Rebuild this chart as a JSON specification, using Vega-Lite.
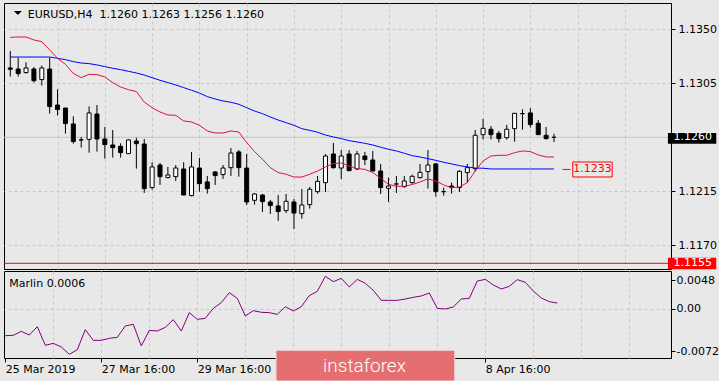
{
  "$schema": "https://vega.github.io/schema/vega-lite/v6.json",
  "background": "#e8e8e8",
  "padding": {"left": 2, "top": 2, "right": 0, "bottom": 0},
  "autosize": {"type": "pad"},
  "spacing": 2,
  "bounds": "flush",
  "config": {
    "font": "DejaVu Sans",
    "view": {"fill": "#e8e8e8", "stroke": "#000000", "strokeWidth": 1},
    "axis": {"labelFont": "DejaVu Sans", "labelFontSize": 11, "labelColor": "#000000", "tickColor": "#000000", "domain": false, "gridColor": "#c8c8c8", "gridDash": [3, 3], "gridWidth": 1}
  },
  "datasets": {
    "d": [
      {"i": 0, "o": 1.13178, "h": 1.13319, "l": 1.13106, "c": 1.13167, "b": 1.13269, "r": 1.13433, "m": -0.00456},
      {"i": 1, "o": 1.13169, "h": 1.13264, "l": 1.13106, "c": 1.13131, "b": 1.13269, "r": 1.13436, "m": -0.0045},
      {"i": 2, "o": 1.13139, "h": 1.13225, "l": 1.13131, "c": 1.13178, "b": 1.13269, "r": 1.13436, "m": -0.00383},
      {"i": 3, "o": 1.13169, "h": 1.13186, "l": 1.13056, "c": 1.13072, "b": 1.13269, "r": 1.13411, "m": -0.00445},
      {"i": 4, "o": 1.13081, "h": 1.13197, "l": 1.13031, "c": 1.13178, "b": 1.13269, "r": 1.13397, "m": -0.00304},
      {"i": 5, "o": 1.13169, "h": 1.13264, "l": 1.12797, "c": 1.12856, "b": 1.13269, "r": 1.13328, "m": -0.00619},
      {"i": 6, "o": 1.12869, "h": 1.13, "l": 1.12781, "c": 1.12831, "b": 1.13258, "r": 1.13258, "m": -0.00585},
      {"i": 7, "o": 1.12844, "h": 1.12844, "l": 1.12631, "c": 1.12714, "b": 1.13247, "r": 1.13208, "m": -0.00647},
      {"i": 8, "o": 1.12711, "h": 1.12775, "l": 1.12547, "c": 1.12564, "b": 1.13231, "r": 1.13133, "m": -0.00771},
      {"i": 9, "o": 1.12578, "h": 1.12603, "l": 1.12514, "c": 1.12578, "b": 1.13219, "r": 1.13097, "m": -0.00692},
      {"i": 10, "o": 1.12583, "h": 1.12858, "l": 1.12472, "c": 1.12803, "b": 1.13214, "r": 1.13125, "m": -0.00354},
      {"i": 11, "o": 1.12794, "h": 1.12869, "l": 1.12481, "c": 1.12586, "b": 1.13203, "r": 1.13122, "m": -0.00535},
      {"i": 12, "o": 1.12586, "h": 1.12686, "l": 1.12422, "c": 1.12539, "b": 1.13189, "r": 1.13103, "m": -0.00535},
      {"i": 13, "o": 1.12536, "h": 1.12661, "l": 1.12431, "c": 1.12514, "b": 1.13175, "r": 1.13056, "m": -0.00501},
      {"i": 14, "o": 1.12525, "h": 1.1255, "l": 1.12431, "c": 1.12472, "b": 1.13164, "r": 1.13019, "m": -0.00484},
      {"i": 15, "o": 1.12464, "h": 1.12583, "l": 1.12464, "c": 1.12578, "b": 1.1315, "r": 1.12997, "m": -0.00292},
      {"i": 16, "o": 1.12569, "h": 1.12597, "l": 1.12339, "c": 1.12547, "b": 1.13136, "r": 1.12981, "m": -0.00264},
      {"i": 17, "o": 1.12544, "h": 1.12586, "l": 1.12136, "c": 1.12172, "b": 1.13119, "r": 1.12894, "m": -0.0063},
      {"i": 18, "o": 1.12181, "h": 1.12392, "l": 1.12164, "c": 1.12353, "b": 1.13097, "r": 1.12847, "m": -0.00366},
      {"i": 19, "o": 1.12369, "h": 1.12386, "l": 1.12203, "c": 1.12272, "b": 1.13075, "r": 1.12811, "m": -0.00377},
      {"i": 20, "o": 1.12264, "h": 1.12353, "l": 1.12258, "c": 1.12286, "b": 1.13056, "r": 1.12786, "m": -0.00315},
      {"i": 21, "o": 1.12272, "h": 1.12369, "l": 1.12236, "c": 1.12344, "b": 1.13036, "r": 1.12783, "m": -0.00185},
      {"i": 22, "o": 1.12336, "h": 1.12392, "l": 1.12119, "c": 1.12119, "b": 1.13014, "r": 1.12736, "m": -0.00377},
      {"i": 23, "o": 1.12114, "h": 1.12478, "l": 1.12108, "c": 1.12353, "b": 1.12992, "r": 1.12728, "m": -0.00067},
      {"i": 24, "o": 1.12344, "h": 1.12428, "l": 1.12147, "c": 1.12214, "b": 1.12969, "r": 1.127, "m": -0.0018},
      {"i": 25, "o": 1.12228, "h": 1.12278, "l": 1.12131, "c": 1.12172, "b": 1.12939, "r": 1.12653, "m": -0.00163},
      {"i": 26, "o": 1.12311, "h": 1.12319, "l": 1.12203, "c": 1.12281, "b": 1.12919, "r": 1.12636, "m": 0.00006},
      {"i": 27, "o": 1.12289, "h": 1.12369, "l": 1.12253, "c": 1.12344, "b": 1.12903, "r": 1.12636, "m": 0.00102},
      {"i": 28, "o": 1.12347, "h": 1.12511, "l": 1.12278, "c": 1.12469, "b": 1.12892, "r": 1.12653, "m": 0.00271},
      {"i": 29, "o": 1.12478, "h": 1.12494, "l": 1.12272, "c": 1.12347, "b": 1.12875, "r": 1.12644, "m": 0.00175},
      {"i": 30, "o": 1.12344, "h": 1.12461, "l": 1.12036, "c": 1.12061, "b": 1.12847, "r": 1.12556, "m": -0.00123},
      {"i": 31, "o": 1.12075, "h": 1.12136, "l": 1.12039, "c": 1.12128, "b": 1.12819, "r": 1.12481, "m": -0.00033},
      {"i": 32, "o": 1.12119, "h": 1.12128, "l": 1.11978, "c": 1.12064, "b": 1.12797, "r": 1.12417, "m": -0.00061},
      {"i": 33, "o": 1.12061, "h": 1.12078, "l": 1.11961, "c": 1.12031, "b": 1.12769, "r": 1.12347, "m": -0.00067},
      {"i": 34, "o": 1.12028, "h": 1.12119, "l": 1.11903, "c": 1.11981, "b": 1.12744, "r": 1.12306, "m": -0.00095},
      {"i": 35, "o": 1.11989, "h": 1.12128, "l": 1.11969, "c": 1.12067, "b": 1.12722, "r": 1.12292, "m": 0.00034},
      {"i": 36, "o": 1.12061, "h": 1.12086, "l": 1.11836, "c": 1.11969, "b": 1.127, "r": 1.12269, "m": -0.00039},
      {"i": 37, "o": 1.11964, "h": 1.12169, "l": 1.11922, "c": 1.12036, "b": 1.12672, "r": 1.12269, "m": 0.00034},
      {"i": 38, "o": 1.12039, "h": 1.12186, "l": 1.12006, "c": 1.12167, "b": 1.12658, "r": 1.12292, "m": 0.0022},
      {"i": 39, "o": 1.12147, "h": 1.12278, "l": 1.12131, "c": 1.12233, "b": 1.12642, "r": 1.12319, "m": 0.00294},
      {"i": 40, "o": 1.12222, "h": 1.12461, "l": 1.12144, "c": 1.12444, "b": 1.12619, "r": 1.12353, "m": 0.00547},
      {"i": 41, "o": 1.12461, "h": 1.12553, "l": 1.12339, "c": 1.12347, "b": 1.12603, "r": 1.12381, "m": 0.00457},
      {"i": 42, "o": 1.12344, "h": 1.12494, "l": 1.12253, "c": 1.12444, "b": 1.12589, "r": 1.12386, "m": 0.00513},
      {"i": 43, "o": 1.12461, "h": 1.12494, "l": 1.12319, "c": 1.12322, "b": 1.12572, "r": 1.12361, "m": 0.00367},
      {"i": 44, "o": 1.12336, "h": 1.12486, "l": 1.12328, "c": 1.12461, "b": 1.12561, "r": 1.12339, "m": 0.00496},
      {"i": 45, "o": 1.12444, "h": 1.12478, "l": 1.12369, "c": 1.12414, "b": 1.1255, "r": 1.12333, "m": 0.00429},
      {"i": 46, "o": 1.12411, "h": 1.12486, "l": 1.12319, "c": 1.12319, "b": 1.12536, "r": 1.12306, "m": 0.0031},
      {"i": 47, "o": 1.12319, "h": 1.12378, "l": 1.12128, "c": 1.12181, "b": 1.12517, "r": 1.12258, "m": 0.00141},
      {"i": 48, "o": 1.12175, "h": 1.12264, "l": 1.12061, "c": 1.12194, "b": 1.125, "r": 1.12208, "m": 0.00141},
      {"i": 49, "o": 1.12211, "h": 1.12278, "l": 1.12136, "c": 1.12211, "b": 1.12486, "r": 1.12192, "m": 0.00141},
      {"i": 50, "o": 1.12189, "h": 1.12278, "l": 1.12178, "c": 1.12236, "b": 1.12467, "r": 1.12192, "m": 0.00164},
      {"i": 51, "o": 1.12222, "h": 1.12289, "l": 1.12214, "c": 1.12275, "b": 1.12447, "r": 1.12206, "m": 0.00192},
      {"i": 52, "o": 1.12264, "h": 1.12378, "l": 1.12256, "c": 1.12308, "b": 1.12436, "r": 1.12228, "m": 0.00215},
      {"i": 53, "o": 1.12314, "h": 1.12494, "l": 1.12172, "c": 1.12369, "b": 1.12422, "r": 1.12253, "m": 0.00265},
      {"i": 54, "o": 1.12378, "h": 1.12386, "l": 1.12106, "c": 1.12147, "b": 1.12408, "r": 1.12236, "m": 0.00006},
      {"i": 55, "o": 1.12147, "h": 1.12181, "l": 1.12114, "c": 1.12147, "b": 1.12392, "r": 1.12203, "m": -0.00005},
      {"i": 56, "o": 1.12194, "h": 1.12222, "l": 1.12131, "c": 1.12181, "b": 1.12378, "r": 1.12181, "m": 0.00029},
      {"i": 57, "o": 1.12181, "h": 1.12325, "l": 1.12144, "c": 1.12317, "b": 1.12364, "r": 1.12186, "m": 0.00164},
      {"i": 58, "o": 1.12306, "h": 1.12378, "l": 1.12222, "c": 1.12347, "b": 1.12353, "r": 1.12222, "m": 0.00175},
      {"i": 59, "o": 1.12339, "h": 1.12661, "l": 1.12314, "c": 1.12617, "b": 1.12344, "r": 1.12319, "m": 0.00468},
      {"i": 60, "o": 1.12622, "h": 1.12753, "l": 1.12581, "c": 1.12675, "b": 1.12342, "r": 1.12403, "m": 0.00496},
      {"i": 61, "o": 1.12667, "h": 1.12694, "l": 1.12581, "c": 1.12622, "b": 1.12336, "r": 1.12444, "m": 0.00401},
      {"i": 62, "o": 1.12633, "h": 1.12653, "l": 1.12556, "c": 1.12589, "b": 1.12336, "r": 1.1245, "m": 0.00333},
      {"i": 63, "o": 1.12597, "h": 1.12703, "l": 1.12581, "c": 1.12667, "b": 1.12336, "r": 1.1245, "m": 0.00378},
      {"i": 64, "o": 1.12672, "h": 1.12803, "l": 1.12564, "c": 1.128, "b": 1.12336, "r": 1.12472, "m": 0.00491},
      {"i": 65, "o": 1.12797, "h": 1.12833, "l": 1.12664, "c": 1.12797, "b": 1.12336, "r": 1.12486, "m": 0.00446},
      {"i": 66, "o": 1.12803, "h": 1.12844, "l": 1.12681, "c": 1.12706, "b": 1.12336, "r": 1.12481, "m": 0.00299},
      {"i": 67, "o": 1.12717, "h": 1.12744, "l": 1.12622, "c": 1.12622, "b": 1.12336, "r": 1.12453, "m": 0.00181},
      {"i": 68, "o": 1.12617, "h": 1.12686, "l": 1.12581, "c": 1.12589, "b": 1.12336, "r": 1.12436, "m": 0.00119},
      {"i": 69, "o": 1.126, "h": 1.1263, "l": 1.1256, "c": 1.126, "b": 1.12336, "r": 1.12436, "m": 0.00096}
    ]
  },
  "vconcat": [
    {
      "width": 667,
      "height": 266,
      "layer": [
        {
          "data": {"values": [{}]},
          "mark": {"type": "rule", "color": "#c4c4c4", "strokeWidth": 1},
          "encoding": {
            "y": {"datum": 1.126, "type": "quantitative", "title": null,
              "scale": {"domain": [1.115025, 1.137192], "nice": false, "zero": false},
              "axis": {"orient": "right", "values": [1.135, 1.1305, 1.1215, 1.117], "format": ".4f", "title": null, "tickSize": 4, "labelPadding": 3, "grid": true, "labelOverlap": false, "labelFlush": false}}
          }
        },
        {
          "data": {"values": [{}]},
          "mark": {"type": "rule", "color": "#ff0000", "strokeWidth": 1},
          "encoding": {
            "y": {"datum": 1.1155, "type": "quantitative", "title": null, "scale": {"domain": [1.115025, 1.137192], "nice": false, "zero": false}}
          }
        },
        {
          "data": {"name": "d"},
          "mark": {"type": "rule", "color": "#000000", "strokeWidth": 1},
          "encoding": {
            "x": {"field": "i", "type": "quantitative", "title": null,
              "scale": {"domain": [-0.1625, 83.2125], "nice": false, "zero": false},
              "axis": {"values": [6, 12, 18, 24, 30, 36, 42, 48, 54, 60, 66, 72, 78], "grid": true, "labels": false, "ticks": false, "domain": false, "title": null}},
            "y": {"field": "l", "type": "quantitative", "title": null, "scale": {"domain": [1.115025, 1.137192], "nice": false, "zero": false}},
            "y2": {"field": "h"}
          }
        },
        {
          "data": {"name": "d"},
          "mark": {"type": "bar", "width": 4, "stroke": "#000000", "strokeWidth": 1},
          "encoding": {
            "x": {"field": "i", "type": "quantitative", "title": null, "scale": {"domain": [-0.1625, 83.2125], "nice": false, "zero": false}},
            "y": {"field": "o", "type": "quantitative", "title": null, "scale": {"domain": [1.115025, 1.137192], "nice": false, "zero": false}},
            "y2": {"field": "c"},
            "fill": {"condition": {"test": "datum.c > datum.o", "value": "#ffffff"}, "value": "#000000"}
          }
        },
        {
          "data": {"name": "d"},
          "mark": {"type": "line", "color": "#0000ff", "strokeWidth": 1},
          "encoding": {
            "x": {"field": "i", "type": "quantitative", "title": null, "scale": {"domain": [-0.1625, 83.2125], "nice": false, "zero": false}},
            "y": {"field": "b", "type": "quantitative", "title": null, "scale": {"domain": [1.115025, 1.137192], "nice": false, "zero": false}}
          }
        },
        {
          "data": {"name": "d"},
          "mark": {"type": "line", "color": "#dc143c", "strokeWidth": 1},
          "encoding": {
            "x": {"field": "i", "type": "quantitative", "title": null, "scale": {"domain": [-0.1625, 83.2125], "nice": false, "zero": false}},
            "y": {"field": "r", "type": "quantitative", "title": null, "scale": {"domain": [1.115025, 1.137192], "nice": false, "zero": false}}
          }
        },
        {
          "data": {"values": [{}]},
          "mark": {"type": "rule", "color": "#ff0000", "strokeWidth": 1},
          "encoding": {
            "x": {"datum": 70.09, "type": "quantitative", "scale": {"domain": [-0.1625, 83.2125], "nice": false, "zero": false}},
            "x2": {"datum": 71.09},
            "y": {"datum": 1.12332, "type": "quantitative", "scale": {"domain": [1.115025, 1.137192], "nice": false, "zero": false}}
          }
        },
        {
          "data": {"values": [{}]},
          "mark": {"type": "rect", "fill": "#e8e8e8", "stroke": "#ff0000", "strokeWidth": 1},
          "encoding": {
            "x": {"datum": 71.38, "type": "quantitative", "scale": {"domain": [-0.1625, 83.2125], "nice": false, "zero": false}},
            "x2": {"datum": 76.38},
            "y": {"datum": 1.123942, "type": "quantitative", "scale": {"domain": [1.115025, 1.137192], "nice": false, "zero": false}},
            "y2": {"datum": 1.122692}
          }
        },
        {
          "data": {"values": [{}]},
          "mark": {"type": "text", "color": "#ff0000", "align": "center", "baseline": "middle", "font": "DejaVu Sans", "fontSize": 11},
          "encoding": {
            "x": {"datum": 73.88, "type": "quantitative", "scale": {"domain": [-0.1625, 83.2125], "nice": false, "zero": false}},
            "y": {"datum": 1.12332, "type": "quantitative", "scale": {"domain": [1.115025, 1.137192], "nice": false, "zero": false}},
            "text": {"value": "1.1233"}
          }
        },
        {
          "data": {"values": [{}]},
          "mark": {"type": "rect", "fill": "#000000"},
          "encoding": {
            "x": {"datum": 83.46, "type": "quantitative", "scale": {"domain": [-0.1625, 83.2125], "nice": false, "zero": false}},
            "x2": {"datum": 89.59},
            "y": {"datum": 1.126358, "type": "quantitative", "scale": {"domain": [1.115025, 1.137192], "nice": false, "zero": false}},
            "y2": {"datum": 1.125467}
          }
        },
        {
          "data": {"values": [{}]},
          "mark": {"type": "rect", "fill": "#ff0000"},
          "encoding": {
            "x": {"datum": 83.46, "type": "quantitative", "scale": {"domain": [-0.1625, 83.2125], "nice": false, "zero": false}},
            "x2": {"datum": 89.59},
            "y": {"datum": 1.115967, "type": "quantitative", "scale": {"domain": [1.115025, 1.137192], "nice": false, "zero": false}},
            "y2": {"datum": 1.115}
          }
        },
        {
          "data": {"values": [{"t": "1.1260", "p": 1.126}, {"t": "1.1155", "p": 1.1155}]},
          "mark": {"type": "text", "color": "#ffffff", "align": "left", "baseline": "middle", "font": "DejaVu Sans", "fontSize": 11},
          "encoding": {
            "x": {"datum": 84.18, "type": "quantitative", "scale": {"domain": [-0.1625, 83.2125], "nice": false, "zero": false}},
            "y": {"field": "p", "type": "quantitative", "scale": {"domain": [1.115025, 1.137192], "nice": false, "zero": false}},
            "text": {"field": "t"}
          }
        },
        {
          "data": {"values": [{}]},
          "mark": {"type": "point", "shape": "M-1,-0.5L1,-0.5L0,0.5Z", "filled": true, "color": "#000000", "size": 64, "opacity": 1},
          "encoding": {
            "x": {"datum": 0.9625, "type": "quantitative", "scale": {"domain": [-0.1625, 83.2125], "nice": false, "zero": false}},
            "y": {"datum": 1.136358, "type": "quantitative", "scale": {"domain": [1.115025, 1.137192], "nice": false, "zero": false}}
          }
        },
        {
          "data": {"values": [{}]},
          "mark": {"type": "text", "color": "#000000", "align": "left", "baseline": "alphabetic", "font": "DejaVu Sans", "fontSize": 11},
          "encoding": {
            "x": {"datum": 2.21, "type": "quantitative", "scale": {"domain": [-0.1625, 83.2125], "nice": false, "zero": false}},
            "y": {"datum": 1.135967, "type": "quantitative", "scale": {"domain": [1.115025, 1.137192], "nice": false, "zero": false}},
            "text": {"value": "EURUSD,H4\u00a0\u00a01.1260 1.1263 1.1256 1.1260"}
          }
        }
      ]
    },
    {
      "width": 667,
      "height": 87,
      "layer": [
        {
          "data": {"name": "d"},
          "mark": {"type": "line", "color": "#800080", "strokeWidth": 1},
          "encoding": {
            "x": {"field": "i", "type": "quantitative", "title": null,
              "scale": {"domain": [-0.1625, 83.2125], "nice": false, "zero": false},
              "axis": {"values": [0, 6, 12, 18, 24, 30, 36, 42, 48, 54, 60, 66, 72, 78], "title": null, "grid": true, "domain": false, "tickSize": 4, "labelAlign": "left", "labelPadding": 1, "labelFlush": false, "labelOverlap": false,
                "labelExpr": "datum.value == 0 ? '25 Mar 2019' : datum.value == 12 ? '27 Mar 16:00' : datum.value == 24 ? '29 Mar 16:00' : datum.value == 60 ? '8 Apr 16:00' : ''",
                "gridOpacity": {"condition": {"test": "datum.value == 0", "value": 0}, "value": 1},
                "tickOpacity": {"condition": {"test": "datum.value == 0 || datum.value == 12 || datum.value == 24 || datum.value == 60", "value": 1}, "value": 0}}},
            "y": {"field": "m", "type": "quantitative", "title": null,
              "scale": {"domain": [-0.008332, 0.006371], "nice": false, "zero": false},
              "axis": {"orient": "right", "values": [0.0048, 0, -0.0072], "title": null, "tickSize": 4, "labelPadding": 1, "grid": true, "labelOverlap": false, "labelFlush": false,
                "labelExpr": "datum.value > 0.001 ? '0.0048' : (datum.value < -0.001 ? '-0.0072' : '0.00')",
                "gridOpacity": {"condition": {"test": "datum.value != 0", "value": 0}, "value": 1}}}
          }
        },
        {
          "data": {"values": [{}]},
          "mark": {"type": "text", "color": "#000000", "align": "left", "baseline": "alphabetic", "font": "DejaVu Sans", "fontSize": 11},
          "encoding": {
            "x": {"datum": 0.5, "type": "quantitative", "scale": {"domain": [-0.1625, 83.2125], "nice": false, "zero": false}},
            "y": {"datum": 0.003617, "type": "quantitative", "scale": {"domain": [-0.008332, 0.006371], "nice": false, "zero": false}},
            "text": {"value": "Marlin 0.0006"}
          }
        },
        {
          "data": {"values": [{}]},
          "mark": {"type": "rect", "fill": "#e46e70", "stroke": "#f3d6d6", "strokeWidth": 1, "cornerRadius": 2},
          "encoding": {
            "x": {"datum": 33.84, "type": "quantitative", "scale": {"domain": [-0.1625, 83.2125], "nice": false, "zero": false}},
            "x2": {"datum": 56.18},
            "y": {"datum": -0.00703, "type": "quantitative", "scale": {"domain": [-0.008332, 0.006371], "nice": false, "zero": false}},
            "y2": {"datum": -0.012219}
          }
        },
        {
          "data": {"values": [{}]},
          "mark": {"type": "text", "color": "#ffffff", "align": "center", "baseline": "alphabetic", "font": "Roboto", "fontWeight": 300, "fontSize": 19},
          "encoding": {
            "x": {"datum": 44.9, "type": "quantitative", "scale": {"domain": [-0.1625, 83.2125], "nice": false, "zero": false}},
            "y": {"datum": -0.010698, "type": "quantitative", "scale": {"domain": [-0.008332, 0.006371], "nice": false, "zero": false}},
            "text": {"value": "instaforex"}
          }
        }
      ]
    }
  ]
}
